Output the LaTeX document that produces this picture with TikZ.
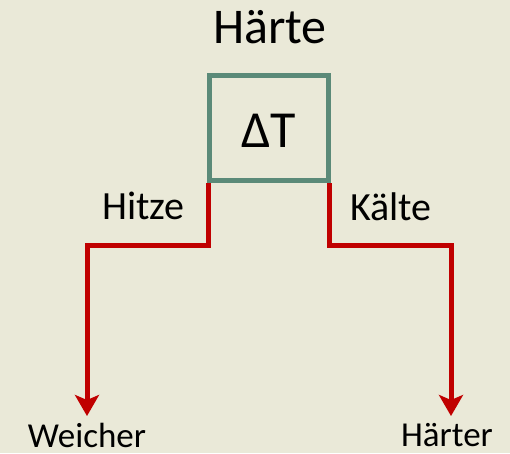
\documentclass[tikz,border=0pt]{standalone}
\usepackage{fontspec}
\setmainfont{Carlito}
\usepackage{tikz}
\usetikzlibrary{arrows.meta, positioning}
\definecolor{paperBeige}{HTML}{EAE9D8}
\definecolor{boxGreen}{HTML}{5B8A78}
\definecolor{hotRed}{HTML}{C00000}

\tikzset{
  lbl/.style={inner sep=0pt, anchor=base},
  flow/.style={hotRed, line width=5pt, line cap=rect, -{Stealth[length=21pt, width=24pt, inset=5pt]}},
}

\begin{document}
\begin{tikzpicture}[x=1pt, y=-1pt, style={line join = miter}]
  \fill[paperBeige] (0,0) rectangle (510,453);
  \useasboundingbox (0,0) rectangle (510,453);

  \node[lbl, font=\fontsize{50}{50}\selectfont] (title) at (270,43) {Härte};
  \node[draw=boxGreen, line width=5pt, minimum width=119pt, minimum height=105pt, inner sep=0pt] (delta) at (269,128) {};
  \node[lbl, font=\fontsize{52}{52}\selectfont] (dT) at (268.5,147) {ΔT};

  \node[lbl, font=\fontsize{40}{40}\selectfont] (hot) at (143.5,219) {Hitze};
  \node[lbl, font=\fontsize{40}{40}\selectfont] (cold) at (391,220) {Kälte};

  \node[lbl, font=\fontsize{35}{35}\selectfont] (soft) at (87,447) {Weicher};
  \node[lbl, font=\fontsize{35}{35}\selectfont] (hard) at (447,446) {Härter};

  \coordinate (tipL) at (87,416);
  \coordinate (tipR) at (451,416);

  % left and right branches
  \draw[flow] ([xshift=1.5pt, yshift=-2.5pt]delta.south west) |- (tipL |- 0,245) -- (tipL);
  \draw[flow] ([xshift=-1.5pt, yshift=-2.5pt]delta.south east) |- (tipR |- 0,245) -- (tipR);
\end{tikzpicture}
\end{document}
